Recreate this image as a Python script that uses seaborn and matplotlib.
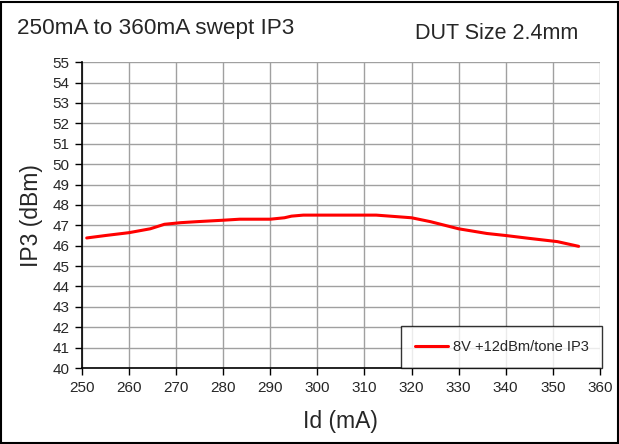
import pandas as pd
import matplotlib.pyplot as plt
import seaborn as sns

id_ma = [251, 255, 260, 264.5, 267.5, 271, 274.5, 280, 283.5, 290, 293, 294.5,
         297, 305, 312.5, 320, 324, 330, 336, 340, 345, 351, 355.5]
ip3_dbm = [46.38, 46.5, 46.64, 46.83, 47.05, 47.13, 47.18, 47.25, 47.3, 47.3, 47.37, 47.45,
           47.5, 47.5, 47.5, 47.37, 47.18, 46.83, 46.6, 46.5, 46.36, 46.2, 45.97]
series_name = "8V +12dBm/tone IP3"

df = pd.DataFrame({"Id": id_ma, "IP3": ip3_dbm, "series": series_name})

sns.set_style("white")
plt.rcParams['font.family'] = ['Liberation Sans', 'DejaVu Sans']

fig = plt.figure(figsize=(6.19, 4.44), dpi=100)
ax = fig.add_axes([0.1325, 0.171, 0.8365, 0.689])

sns.lineplot(data=df, x="Id", y="IP3", hue="series", palette=["#ff0000"],
             linewidth=2.2, ax=ax, legend=True)

ax.set_xlim(250, 360)
ax.set_ylim(40, 55)
ax.set_xticks(range(250, 361, 10))
ax.set_yticks(range(40, 56, 1))
ax.grid(True, color="#a0a0a0", linewidth=1)
ax.tick_params(axis="both", direction="out", length=5, width=1, labelsize=11,
               pad=4, left=True, bottom=True, color="black")
for side in ["top", "right"]:
    ax.spines[side].set_visible(False)
for side in ["left", "bottom"]:
    ax.spines[side].set_color("black")
    ax.spines[side].set_linewidth(1.2)

ax.set_xlabel("Id (mA)", fontsize=16.5, va="center")
ax.set_ylabel("IP3 (dBm)", fontsize=16.5, va="center")
ax.xaxis.set_label_coords(0.5, -0.176)
ax.yaxis.set_label_coords(-0.098, 0.5)

leg = ax.legend(loc="lower right", bbox_to_anchor=(1.005, 0.0), fontsize=10.5,
                frameon=True, fancybox=False, edgecolor="black", handlelength=2.3,
                handletextpad=0.3, borderpad=0.95, borderaxespad=0)
leg.get_frame().set_linewidth(1)

fig.text(0.027, 0.935, "250mA to 360mA swept IP3", fontsize=16.2, va="center", ha="left")
fig.text(0.67, 0.925, "DUT Size 2.4mm", fontsize=15.5, va="center", ha="left")

# figure border
fig.patches.append(plt.Rectangle((0.002, 0.002), 0.996, 0.994, transform=fig.transFigure,
                                 fill=False, edgecolor="black", linewidth=1.5))

fig.savefig("out.png", dpi=100)
